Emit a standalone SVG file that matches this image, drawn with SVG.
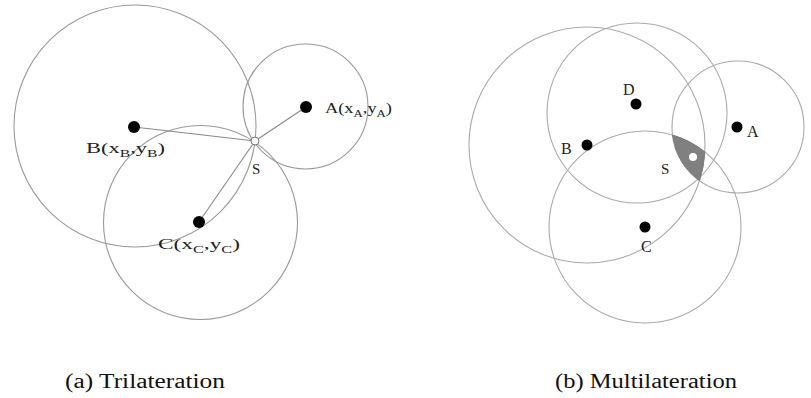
<svg xmlns="http://www.w3.org/2000/svg" width="811" height="398" viewBox="0 0 811 398">
<style>
.ring{fill:none;stroke:#999;stroke-width:1.1}
.ring2{fill:none;stroke:#aaa;stroke-width:1.1}
.dot{fill:#000}
.ln{stroke:#888;stroke-width:1.1;fill:none}
.lbl{font-family:"Liberation Serif","Times New Roman",serif;font-size:15px;fill:#222}
.sub{font-size:10.5px}
.cap{font-family:"Liberation Serif","Times New Roman",serif;font-size:20px;fill:#111}
</style>
<rect width="811" height="398" fill="#fff"/>
<g id="panel-a">
  <g id="circles-a">
    <circle class="ring" cx="135" cy="126" r="121"/>
    <circle class="ring" cx="200.5" cy="222.5" r="97"/>
    <circle class="ring" cx="305.5" cy="106.5" r="62.5"/>
  </g>
  <g id="connectors-a">
    <line class="ln" x1="134" y1="127" x2="255" y2="141"/>
    <line class="ln" x1="199" y1="222" x2="255" y2="141"/>
    <line class="ln" x1="306" y1="107" x2="255" y2="141"/>
  </g>
  <g id="node-A-a"><circle class="dot" cx="306" cy="107" r="6"/>
    <text class="lbl" x="325" y="113" textLength="67" lengthAdjust="spacingAndGlyphs">A(x<tspan class="sub" dy="4">A</tspan><tspan dy="-4">,y</tspan><tspan class="sub" dy="4">A</tspan><tspan dy="-4">)</tspan></text></g>
  <g id="node-B-a"><circle class="dot" cx="134" cy="127" r="6"/>
    <text class="lbl" x="86" y="153" textLength="79" lengthAdjust="spacingAndGlyphs">B(x<tspan class="sub" dy="4">B</tspan><tspan dy="-4">,y</tspan><tspan class="sub" dy="4">B</tspan><tspan dy="-4">)</tspan></text></g>
  <g id="node-C-a"><circle class="dot" cx="199" cy="222" r="6"/>
    <text class="lbl" x="158" y="249" textLength="82" lengthAdjust="spacingAndGlyphs">C(x<tspan class="sub" dy="4">C</tspan><tspan dy="-4">,y</tspan><tspan class="sub" dy="4">C</tspan><tspan dy="-4">)</tspan></text></g>
  <g id="node-S-a"><circle cx="255" cy="141" r="4" fill="#fff" stroke="#777" stroke-width="1"/>
    <text class="lbl" x="252" y="174">S</text></g>
  <text class="cap" x="65" y="388" textLength="160" lengthAdjust="spacingAndGlyphs">(a) Trilateration</text>
</g>
<g id="panel-b">
  <g id="circles-b">
    <circle class="ring2" cx="587" cy="145" r="118"/>
    <circle class="ring2" cx="637" cy="113" r="90"/>
    <circle class="ring2" cx="738" cy="127" r="66"/>
    <circle class="ring2" cx="645" cy="227" r="96"/>
  </g>
  <g id="region-S">
    <path d="M672.5,135 A96,96 0 0 1 704.8,151.9 A118,118 0 0 1 699.5,180.7 A66,66 0 0 1 672.5,135 Z" fill="#808080" stroke="#777" stroke-width="0.8"/>
    <circle cx="693" cy="157" r="4" fill="#fff"/>
    <text class="lbl" x="661" y="174" font-size="16">S</text>
  </g>
  <g id="node-D-b"><circle class="dot" cx="636" cy="104" r="5.5"/><text class="lbl" x="623" y="95" style="font-size:16px">D</text></g>
  <g id="node-B-b"><circle class="dot" cx="587" cy="145" r="5.5"/><text class="lbl" x="561" y="154" style="font-size:16px">B</text></g>
  <g id="node-A-b"><circle class="dot" cx="737" cy="127" r="5.5"/><text class="lbl" x="747" y="137" style="font-size:16px">A</text></g>
  <g id="node-C-b"><circle class="dot" cx="645" cy="227" r="5.5"/><text class="lbl" x="641" y="252" style="font-size:16px">C</text></g>
  <text class="cap" x="555" y="388" textLength="182" lengthAdjust="spacingAndGlyphs">(b) Multilateration</text>
</g>
</svg>
